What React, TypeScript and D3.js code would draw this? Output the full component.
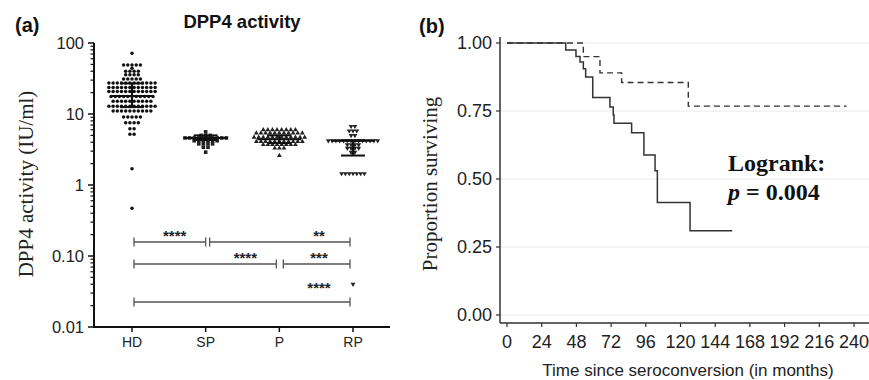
import React from "react";
import * as d3 from "d3";

// ---- panel (a): DPP4 activity per group (IU/ml) ----
const groups = ["HD", "SP", "P", "RP"];

const hdValues = [
  72,
  49, 49, 49, 49, 49, 44,
  40, 40, 40, 40,
  35.6, 35.6, 35.6, 35.6,
  31, 31, 31, 31, 31,
  27.3, 27.3, 27.3, 27.3, 27.3, 27.3, 27.3, 27.3, 27.3, 27.3, 27.3, 27.3,
  23.7, 23.7, 23.7, 23.7, 23.7, 23.7, 23.7, 23.7, 23.7, 23.7, 23.7, 23.7,
  20.8, 20.8, 20.8, 20.8, 20.8, 20.8, 20.8, 20.8, 20.8, 20.8, 20.8, 20.8,
  17.7, 17.7, 17.7, 17.7, 17.7, 17.7, 17.7, 17.7, 17.7, 17.7, 17.7,
  15.1, 15.1, 15.1, 15.1, 15.1, 15.1, 15.1, 15.1, 15.1, 15.1,
  12.9, 12.9, 12.9, 12.9, 12.9, 12.9, 12.9, 12.9, 12.9, 12.9, 12.9, 12.9,
  11, 11, 11, 11, 11, 11, 11, 11, 11, 11,
  9.1, 9.1, 9.1, 9.1, 9.1,
  7.5, 7.5, 7.5, 7.5,
  6.2, 6.2,
  5.2, 5.2,
  1.7,
  0.47,
];
const spValues = [
  5.6,
  5.0, 5.0, 5.0,
  4.6, 4.6, 4.6, 4.6, 4.6, 4.6, 4.6, 4.6, 4.6, 4.6,
  4.2, 4.2, 4.2, 4.2, 4.2, 4.2,
  3.8, 3.8, 3.8, 3.8,
  3.4, 3.4,
  2.9,
];
const pValues = [
  6.0, 6.0, 6.0, 6.0, 6.0, 6.0, 6.0, 6.0,
  5.4, 5.4, 5.4, 5.4, 5.4, 5.4, 5.4, 5.4, 5.4, 5.4, 5.4,
  4.7, 4.7, 4.7, 4.7, 4.7, 4.7, 4.7, 4.7, 4.7, 4.7, 4.7, 4.7,
  4.1, 4.1, 4.1, 4.1, 4.1, 4.1, 4.1, 4.1, 4.1, 4.1, 4.1,
  3.7, 3.7, 3.7, 3.7, 3.7, 3.7, 3.7, 3.7,
  3.3, 3.3, 3.3,
  2.6,
];
const rpValues = [
  6.7, 6.7,
  5.8, 5.8, 5.8,
  5.0, 5.0,
  4.2, 4.2, 4.2, 4.2, 4.2, 4.2, 4.2, 4.2, 4.2, 4.2, 4.2, 4.2, 4.2, 4.2,
  3.7, 3.7, 3.7, 3.7,
  3.3, 3.3, 3.3, 3.3,
  2.9, 2.9,
  1.45, 1.45, 1.45, 1.45, 1.45, 1.45, 1.45,
  0.04,
];
const medians = [18, 4.6, 4.4, 4.2];
const lowerQ = [12.5, 4.3, 3.9, 2.6];
const upperQ = [27, 5.0, 5.0, 4.25];

const logTicks = [100, 10, 1, 0.1, 0.01];
const logTickLabels = ["100", "10", "1", "0.10", "0.01"];

const brackets = [
  { from: "HD", to: "SP", row: 0, label: "****" },
  { from: "SP", to: "RP", row: 0, label: "**" },
  { from: "HD", to: "P", row: 1, label: "****" },
  { from: "P", to: "RP", row: 1, label: "***" },
  { from: "HD", to: "RP", row: 2, label: "****" },
];

// ---- panel (b): Kaplan-Meier curves ----
const timeTicks = [0, 24, 48, 72, 96, 120, 144, 168, 192, 216, 240];
const survTicks = [0, 0.25, 0.5, 0.75, 1];
const solidTimes = [0, 40.6, 47.7, 50.5, 52.8, 54.4, 59.3, 71.2, 73.5, 74, 86.2, 94.7, 102.4, 104, 126.6, 155.8];
const solidSurv = [1, 0.974, 0.95, 0.93, 0.905, 0.875, 0.8, 0.765, 0.735, 0.705, 0.67, 0.588, 0.53, 0.414, 0.31, 0.31];
const dashedTimes = [0, 52.8, 64.3, 79.3, 125.4, 234.9];
const dashedSurv = [1, 0.95, 0.89, 0.855, 0.768, 0.768];

const sans = "'Liberation Sans', Arial, sans-serif";
const serif = "'Liberation Serif', 'Times New Roman', serif";

// lay points out in rows: equal values spread horizontally, centred
function rowLayout(values: number[], spacing: number) {
  const counts = d3.rollup(values, (v) => v.length, (v) => v);
  const seen = new Map<number, number>();
  return values.map((v) => {
    const n = counts.get(v) || 1;
    const i = seen.get(v) || 0;
    seen.set(v, i + 1);
    return { v, dx: (i - (n - 1) / 2) * spacing };
  });
}

function PanelA() {
  const x = d3.scalePoint<string>().domain(groups).range([132, 353]);
  const y = d3.scaleLog().domain([0.01, 100]).range([327, 43]);
  const axisX = 94;

  const minor: number[] = [];
  [0.01, 0.1, 1, 10].forEach((d) => {
    for (let k = 2; k <= 9; k++) minor.push(d * k);
  });

  const triUp = d3.symbol(d3.symbolTriangle, 10)() || "";
  const sets = [
    { g: "HD", pts: rowLayout(hdValues, 4.2) },
    { g: "SP", pts: rowLayout(spValues, 4.6) },
    { g: "P", pts: rowLayout(pValues, 4.6) },
    { g: "RP", pts: rowLayout(rpValues, 3.8) },
  ];

  const rowY = [242, 264, 302];
  const labelDy = [-1, -1, -9];

  return (
    <g>
      <text x={15} y={32} fontFamily={sans} fontWeight="bold" fontSize={20} fill="#111">(a)</text>
      <text x={242} y={28} textAnchor="middle" fontFamily={sans} fontWeight="bold" fontSize={18.5} fill="#111">
        DPP4 activity
      </text>
      <text
        transform={`translate(33,184) rotate(-90)`}
        textAnchor="middle"
        fontFamily={serif}
        fontSize={21}
        fill="#222"
      >
        DPP4 activity (IU/ml)
      </text>

      {/* y axis */}
      <line x1={axisX} x2={axisX} y1={y(100)} y2={y(0.01)} stroke="#111" strokeWidth={2} />
      {logTicks.map((t, i) => (
        <g key={t}>
          <line x1={axisX - 6} x2={axisX} y1={y(t)} y2={y(t)} stroke="#111" strokeWidth={1.5} />
          <text x={84} y={y(t)} dy="0.36em" textAnchor="end" fontFamily={sans} fontSize={16.5} fill="#222">
            {logTickLabels[i]}
          </text>
        </g>
      ))}
      {minor.map((t) => (
        <line key={t} x1={axisX - 3.5} x2={axisX} y1={y(t)} y2={y(t)} stroke="#111" strokeWidth={1.2} />
      ))}

      {/* x axis */}
      <line x1={axisX - 1} x2={390} y1={y(0.01)} y2={y(0.01)} stroke="#111" strokeWidth={2} />
      {groups.map((g) => (
        <g key={g}>
          <line x1={x(g)} x2={x(g)} y1={y(0.01)} y2={y(0.01) + 5} stroke="#111" strokeWidth={1.5} />
          <text x={x(g)} y={342} dy="0.36em" textAnchor="middle" fontFamily={sans} fontSize={14} fill="#222">
            {g}
          </text>
        </g>
      ))}

      {/* points */}
      {sets.map((s) =>
        s.pts.map((p, i) => {
          const cx = (x(s.g) || 0) + p.dx;
          const cy = y(p.v);
          if (s.g === "HD") return <circle key={s.g + i} cx={cx} cy={cy} r={1.75} fill="#111" />;
          if (s.g === "SP")
            return <rect key={s.g + i} x={cx - 1.8} y={cy - 1.8} width={3.6} height={3.6} fill="#222" />;
          if (s.g === "P")
            return <path key={s.g + i} d={triUp} transform={`translate(${cx},${cy})`} fill="#222" />;
          return <path key={s.g + i} d={triUp} transform={`translate(${cx},${cy}) rotate(180)`} fill="#222" />;
        })
      )}

      {/* median + interquartile range */}
      {groups.map((g, i) => {
        const cx = x(g) || 0;
        return (
          <g key={g} stroke="#111" strokeWidth={2}>
            <line x1={cx - 22} x2={cx + 22} y1={y(medians[i])} y2={y(medians[i])} />
            <line x1={cx} x2={cx} y1={y(upperQ[i])} y2={y(lowerQ[i])} />
            <line x1={cx - 12} x2={cx + 12} y1={y(upperQ[i])} y2={y(upperQ[i])} />
            <line x1={cx - 12} x2={cx + 12} y1={y(lowerQ[i])} y2={y(lowerQ[i])} />
          </g>
        );
      })}

      {/* significance brackets */}
      {brackets.map((b, i) => {
        const x1 = (x(b.from) || 0) + (b.from === "HD" ? 2 : 4);
        const x2 = (x(b.to) || 0) - (b.to === "SP" ? 0 : 3);
        const yy = rowY[b.row];
        return (
          <g key={i} stroke="#555" strokeWidth={1.3}>
            <line x1={x1} x2={x2} y1={yy} y2={yy} />
            <line x1={x1} x2={x1} y1={yy - 4.5} y2={yy + 4.5} />
            <line x1={x2} x2={x2} y1={yy - 4.5} y2={yy + 4.5} />
            <text
              x={x2 - 31}
              y={yy + labelDy[b.row]}
              textAnchor="middle"
              fontFamily={sans}
              fontWeight="bold"
              fontSize={15}
              fill="#222"
              stroke="none"
            >
              {b.label}
            </text>
          </g>
        );
      })}
    </g>
  );
}

function PanelB() {
  const x = d3.scaleLinear().domain([0, 240]).range([507, 854]);
  const y = d3.scaleLinear().domain([0, 1]).range([315, 43]);
  const axisX = 500;
  const axisY = 323;

  const step = d3
    .line<[number, number]>()
    .x((d) => x(d[0]))
    .y((d) => y(d[1]))
    .curve(d3.curveStepAfter);
  const solid = step(solidTimes.map((t, i) => [t, solidSurv[i]] as [number, number])) || "";
  const dashed = step(dashedTimes.map((t, i) => [t, dashedSurv[i]] as [number, number])) || "";

  return (
    <g>
      <text x={419} y={33} fontFamily={sans} fontWeight="bold" fontSize={20} fill="#111">(b)</text>

      {survTicks.map((t) => (
        <line key={t} x1={axisX} x2={869} y1={y(t)} y2={y(t)} stroke="#ebebeb" strokeWidth={1} />
      ))}

      <line x1={axisX} x2={axisX} y1={37} y2={axisY} stroke="#333" strokeWidth={1.5} />
      <line x1={axisX} x2={869} y1={axisY} y2={axisY} stroke="#333" strokeWidth={1.5} />

      {survTicks.map((t) => (
        <g key={t}>
          <line x1={axisX - 4} x2={axisX} y1={y(t)} y2={y(t)} stroke="#333" strokeWidth={1.2} />
          <text x={492} y={y(t)} dy="0.36em" textAnchor="end" fontFamily={sans} fontSize={18} fill="#222">
            {d3.format(".2f")(t)}
          </text>
        </g>
      ))}
      {timeTicks.map((t) => (
        <g key={t}>
          <line x1={x(t)} x2={x(t)} y1={axisY} y2={axisY + 4} stroke="#333" strokeWidth={1.2} />
          <text x={x(t)} y={342} dy="0.36em" textAnchor="middle" fontFamily={sans} fontSize={18} fill="#222">
            {t}
          </text>
        </g>
      ))}

      <text x={688} y={376} textAnchor="middle" fontFamily={sans} fontSize={17} fill="#222">
        Time since seroconversion (in months)
      </text>
      <text
        transform={`translate(437,184) rotate(-90)`}
        textAnchor="middle"
        fontFamily={serif}
        fontSize={21}
        fill="#222"
      >
        Proportion surviving
      </text>

      <path d={dashed} fill="none" stroke="#333" strokeWidth={1.4} strokeDasharray="6,4" />
      <path d={solid} fill="none" stroke="#333" strokeWidth={1.5} />

      <text x={728} y={171} fontFamily={serif} fontWeight="bold" fontSize={24} fill="#111">
        Logrank:
      </text>
      <text x={728} y={200} fontFamily={serif} fontWeight="bold" fontSize={24} fill="#111">
        <tspan fontStyle="italic">p</tspan> = 0.004
      </text>
    </g>
  );
}

export default function App() {
  return (
    <svg
      width={869}
      height={380}
      viewBox="0 0 869 380"
      style={{ position: "absolute", left: 0, top: 0, background: "#fff" }}
    >
      <rect width={869} height={380} fill="#fff" />
      <PanelA />
      <PanelB />
    </svg>
  );
}
